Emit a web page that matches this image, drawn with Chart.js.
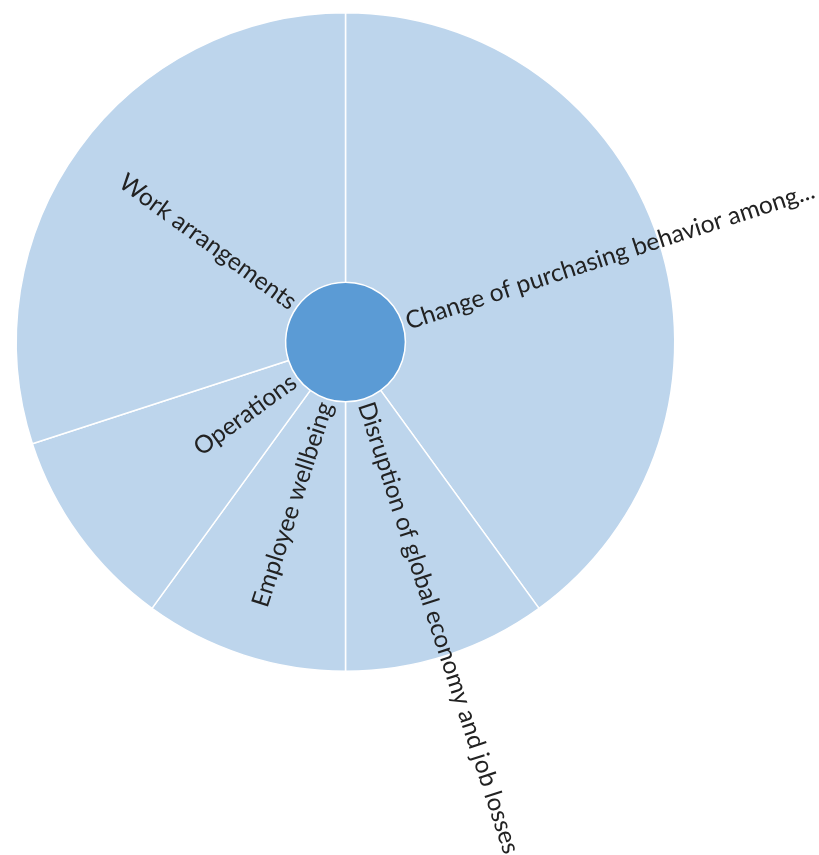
<!DOCTYPE html>
<html>
<head>
<meta charset="utf-8">
<script src="https://cdn.jsdelivr.net/npm/chart.js@4.4.1/dist/chart.umd.min.js"></script>
<style>
  html, body { margin: 0; padding: 0; background: #fff; }
  #wrap { width: 819px; height: 855px; }
</style>
</head>
<body>
<div id="wrap"><canvas id="sunburst"></canvas></div>
<script>
// segmenty pierścienia (zgodnie z ruchem wskazówek zegara od góry)
const categories = [
    'Change of purchasing behavior among...',
    'Disruption of global economy and job losses',
    'Employee wellbeing',
    'Operations',
    'Work arrangements'
];
const values = [40, 10, 10, 10, 30];
const rootValue = [100];

const ringColor = '#bdd5ec';
const rootColor = '#5b9bd5';

// etykiety rysowane promieniście od środka
const radialLabels = {
    id: 'radialLabels',
    afterDatasetsDraw(chart) {
        const ctx = chart.ctx;
        const meta = chart.getDatasetMeta(0);
        ctx.save();
        ctx.font = '24.5px Lato';
        ctx.fillStyle = '#222';
        ctx.textBaseline = 'middle';
        meta.data.forEach((arc, i) => {
            const { x, y, startAngle, endAngle, innerRadius } = arc.getProps(['x', 'y', 'startAngle', 'endAngle', 'innerRadius'], true);
            const mid = (startAngle + endAngle) / 2;
            const r0 = innerRadius + 4;
            ctx.save();
            ctx.translate(x, y);
            ctx.rotate(mid);
            if (Math.cos(mid) < 0) {
                ctx.rotate(Math.PI);
                ctx.textAlign = 'right';
                ctx.fillText(categories[i], -r0, 0);
            } else {
                ctx.textAlign = 'left';
                ctx.fillText(categories[i], r0, 0);
            }
            ctx.restore();
        });
        ctx.restore();
    }
};

new Chart(document.getElementById('sunburst'), {
    type: 'doughnut',
    data: {
        labels: categories,
        datasets: [
            {
                data: values,
                backgroundColor: ringColor,
                borderColor: '#ffffff',
                borderWidth: 1.5,
                weight: 270
            },
            {
                data: rootValue,
                backgroundColor: rootColor,
                borderWidth: 0,
                weight: 60
            }
        ]
    },
    options: {
        responsive: true,
        maintainAspectRatio: false,
        animation: false,
        cutout: 0,
        layout: { padding: { left: 15, top: 12, right: 143, bottom: 183 } },
        plugins: {
            legend: { display: false },
            tooltip: { enabled: false }
        },
        events: []
    },
    plugins: [radialLabels]
});
</script>
</body>
</html>
